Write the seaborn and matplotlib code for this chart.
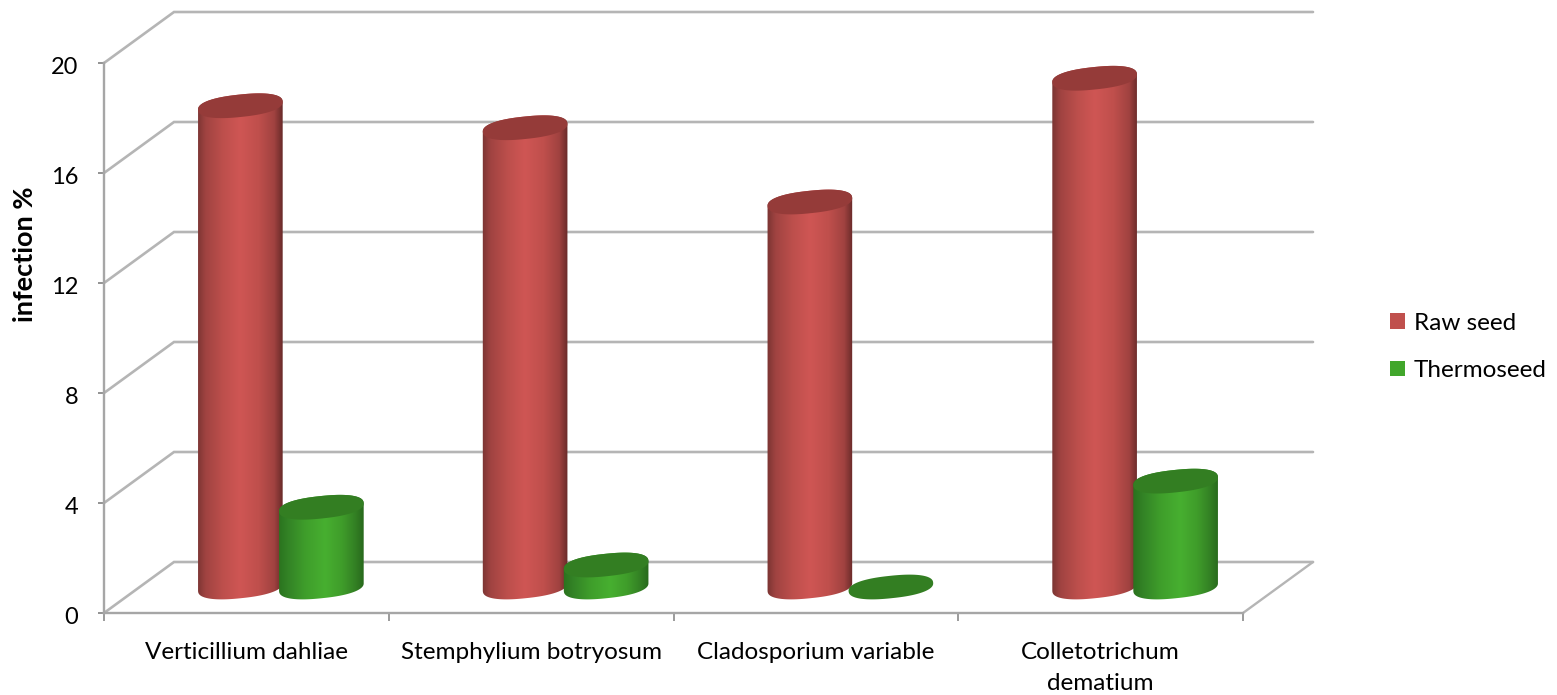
import numpy as np
import pandas as pd
import matplotlib
matplotlib.use("Agg")
import matplotlib.pyplot as plt
import seaborn as sns
from matplotlib.colors import LinearSegmentedColormap
from matplotlib.patches import Patch, Polygon
from matplotlib.transforms import ScaledTranslation

# ---------- data ----------
categories = ["Verticillium dahliae", "Stemphylium botryosum", "Cladosporium variable", "Colletotrichum\ndematium"]
raw_seed = [17.5, 16.7, 14.0, 18.5]
thermoseed = [2.9, 0.8, 0.0, 3.85]
y_ticks = [0, 4, 8, 12, 16, 20]
series_names = ["Raw seed", "Thermoseed"]
y_label = "infection %"

# ---------- styling ----------
W, H = 1557, 695
L, R, B, T = 104, 1243, 613, 63      # front plane, px
DEPTH_X, DEPTH_Y = 70, 51            # wall depth, px
CYL_X, CYL_Y = 34.5, 26              # offset of cylinder plane, px
PAD = 60                             # extra room below the cylinder plane, px
ELL_A, ELL_B, ELL_TILT = 42.5, 11.2, np.radians(6)
ELL_EXP = 0.85                       # slightly blunter ends than a true ellipse
GRID = "#b5b5b5"
AXLINE = "#a6a6a6"
TICK = "#8a8a8a"
SIDE = {"Raw seed": [(0, "#7a3432"), (0.1, "#a04341"), (0.3, "#bd4f4c"), (0.5, "#cf5654"),
                     (0.72, "#bf4f4c"), (0.9, "#a04240"), (1, "#682a29")],
        "Thermoseed": [(0, "#2a721e"), (0.12, "#338326"), (0.32, "#3f9e2b"), (0.55, "#47af30"),
                       (0.75, "#3f9c2a"), (0.9, "#338024"), (1, "#28691c")]}
TOP = {"Raw seed": "#953b39", "Thermoseed": "#337e22"}
LEGEND = {"Raw seed": "#c0504d", "Thermoseed": "#41a62b"}
FS = 17.5

sns.set_style("white")
plt.rcParams["font.family"] = ["Lato", "DejaVu Sans"]
plt.rcParams["font.size"] = FS
plt.rcParams["text.color"] = "black"
plt.rcParams["axes.labelcolor"] = "black"
plt.rcParams["xtick.labelcolor"] = "black"
plt.rcParams["ytick.labelcolor"] = "black"

fig = plt.figure(figsize=(W / 100, H / 100), dpi=100, facecolor="white")


def rect(l, r, b, t):
    return [l / W, (H - b) / H, (r - l) / W, (b - t) / H]


ax = fig.add_axes(rect(L, R, B, T), facecolor="none")
ax.set_xlim(-0.5, len(categories) - 0.5)
ax.set_ylim(0, max(y_ticks))
ux = (len(categories)) / (R - L)      # data units per px
uy = max(y_ticks) / (B - T)
dx, dy = DEPTH_X * ux, DEPTH_Y * uy
x0, x1 = ax.get_xlim()

# back wall gridlines + floor
for v in y_ticks:
    ax.plot([x0, x0 + dx, x1 + dx], [v, v + dy, v + dy], color=GRID, lw=1.9,
            clip_on=False, zorder=1, solid_joinstyle="miter")
ax.plot([x1, x1 + dx], [0, dy], color=GRID, lw=1.7, clip_on=False, zorder=1)

for s in ["top", "right"]:
    ax.spines[s].set_visible(False)
for s in ["left", "bottom"]:
    ax.spines[s].set_color(AXLINE)
    ax.spines[s].set_linewidth(1.7)

ax.set_yticks(y_ticks)
ax.tick_params(axis="y", which="major", left=True, length=4.5, width=1.3, color=TICK, pad=14, labelsize=17)
ax.set_xticks(np.arange(x0, x1 + 0.01, 1.0))
ax.set_xticklabels([])
ax.tick_params(axis="x", which="major", bottom=True, length=5.5, width=1.2, color=TICK)
ax.set_xticks(np.arange(len(categories)), labels=categories, minor=True)
ax.tick_params(axis="x", which="minor", bottom=False, length=0, pad=21, labelsize=FS)
for lab in ax.get_xticklabels(minor=True):
    lab.set_linespacing(1.55)
for lab in ax.get_yticklabels():
    lab.set_transform(lab.get_transform() + ScaledTranslation(0, -3 / 100, fig.dpi_scale_trans))
ax.set_ylabel(y_label, fontweight="bold", fontsize=19.5)
ax.yaxis.set_label_coords((37 - L) / (R - L), (B - 254) / (B - T))

# cylinders: seaborn bars on a plane shifted into the depth
ax2 = fig.add_axes(rect(L + CYL_X, R + CYL_X, B - CYL_Y + PAD, T - CYL_Y), facecolor="none")
df = pd.DataFrame({"cat": categories * 2,
                   "val": raw_seed + thermoseed,
                   "series": [series_names[0]] * 4 + [series_names[1]] * 4})
sns.barplot(data=df, x="cat", y="val", hue="series", hue_order=series_names, order=categories,
            ax=ax2, width=0.569, gap=0, legend=False, errorbar=None)
ax2.set_axis_off()

c, s = np.cos(ELL_TILT), np.sin(ELL_TILT)
ts = np.linspace(0, 2 * np.pi, 361)[:-1]
u = np.sign(np.cos(ts)) * np.abs(np.cos(ts)) ** ELL_EXP
v = np.sign(np.sin(ts)) * np.abs(np.sin(ts)) ** ELL_EXP
ex = ELL_A * u * c - ELL_B * v * s
ey = ELL_A * u * s + ELL_B * v * c
# start at the rightmost point, so the outline runs over the top to the left, then under the base
shift = -int(np.argmax(ex))
ex, ey = np.roll(ex, shift), np.roll(ey, shift)
i_left = int(np.argmin(ex))

for name, container in zip(series_names, ax2.containers):
    cmap = LinearSegmentedColormap.from_list(name, SIDE[name])
    grad = np.linspace(0, 1, 256).reshape(1, -1)
    for bar in container:
        bar.set_visible(False)
        cx = bar.get_x() + bar.get_width() / 2
        top = bar.get_height()
        left_x = cx - 1.01 * ELL_A * ux
        right_x = cx + 1.01 * ELL_A * ux
        upper = np.c_[cx + ex[:i_left + 1] * ux, top + ey[:i_left + 1] * uy]
        lower = np.c_[cx + ex[i_left:] * ux, ey[i_left:] * uy]
        z = 3 if name == series_names[0] else 4
        poly = Polygon(np.r_[upper, lower], closed=True, fc="none", ec="none", transform=ax2.transData)
        ax2.add_patch(poly)
        if top > 0:
            im = ax2.imshow(grad, extent=[left_x, right_x, -1.5, top + 1.5], aspect="auto", cmap=cmap,
                            vmin=0, vmax=1, zorder=z, interpolation="bilinear")
            im.set_clip_path(poly)
        ax2.fill(cx + ex * ux, top + ey * uy, color=TOP[name], zorder=z + 0.5, lw=0, clip_on=False)
ax2.set_xlim(x0, x1)
ax2.set_ylim(-PAD * uy, max(y_ticks))

# legend
handles = [Patch(facecolor=LEGEND[n], edgecolor="none", label=n) for n in series_names]
fig.legend(handles=handles, loc="center left", bbox_to_anchor=(1371 / W, (H - 347) / H),
           frameon=False, fontsize=FS, handlelength=0.58, handleheight=0.58,
           handletextpad=0.37, labelspacing=1.1, borderpad=0.3)

fig.savefig("out.png", dpi=100, facecolor="white")
